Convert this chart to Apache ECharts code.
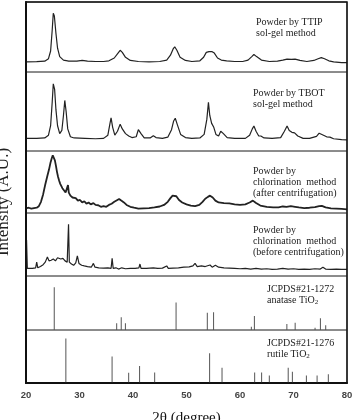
<!DOCTYPE html>
<html>
<head>
<meta charset="utf-8">
<script src="https://cdn.jsdelivr.net/npm/echarts@6/dist/echarts.min.js"></script>
<style>
  html, body { margin: 0; padding: 0; background: #fff; }
  #box { width: 353px; height: 420px; }
</style>
</head>
<body>
<div id="box"></div>
<script>
// x ticks
const xTicks = [20, 30, 40, 50, 60, 70, 80];

// TiO2 powder by TTIP sol-gel method  [2theta, intensity a.u.]
const ttip = [
  [20,14.5],[22,14.8],[23.5,15.5],[24.2,19],[24.6,30],[24.9,60],[25.1,84],[25.3,80],[25.6,55],[25.9,34],
  [26.3,22],[27,17],[28,15.5],[29.5,15.5],[30.5,16.5],[31.5,15.5],[33,15],[34.5,15],[35.5,16],[36.5,20],
  [37.2,27],[37.6,31],[38,28],[38.6,21],[39.5,16.5],[41,15],[43,14.5],[45,15],[46.3,17],[47,24],
  [47.5,33],[47.8,36],[48.2,31],[48.8,21],[49.8,16.5],[51,15],[52.5,16],[53.2,21],[53.7,28],[54.2,29],
  [54.8,29],[55.2,27],[55.8,20],[56.5,17],[57.5,16],[59,15],[60.5,15],[61.5,17],[62.2,22],[62.6,25],
  [63.1,22],[64,17],[65.5,15],[67,15.5],[68,17],[68.8,18.5],[69.6,18],[70.3,18.5],[71.2,16.5],[72.5,15],
  [73.8,16.5],[74.6,19],[75.2,20.5],[75.8,19],[76.6,16],[77.5,14.5],[79,13.5],[80,13.3]
];

// TiO2 powder by TBOT sol-gel method
const tbot = [
  [20,16],[22,16],[23.5,16.5],[24.2,20],[24.6,32],[24.9,62],[25.1,85],[25.35,78],[25.6,52],[25.9,32],
  [26.3,22],[26.7,26],[27,45],[27.25,64],[27.5,50],[27.8,28],[28.3,18],[29,16.5],[31,16],[33,15.5],
  [34.5,16],[35.3,20],[35.7,35],[35.9,42],[36.2,30],[36.6,20],[37.1,25],[37.6,34],[38,28],[38.6,22],
  [39.2,19],[39.8,17],[40.6,18],[41,27],[41.2,29.5],[41.5,22],[42.1,16.5],[43.2,16.5],[43.8,19.4],[44.3,17],
  [45.5,16],[46.5,17.5],[47.2,27],[47.6,38],[47.9,41.4],[48.3,33],[48.9,21],[49.8,17],[51,16],[52.5,16.5],
  [53.3,21],[53.8,40],[54.1,61.6],[54.35,45],[54.7,35],[55.1,30],[55.5,21],[56,19],[56.4,25],[56.6,27.5],
  [56.9,22],[57.6,17],[59,16],[61,16],[61.8,20],[62.3,28],[62.6,31.6],[63,25],[63.5,19],[63.9,19],
  [64.5,16.5],[66,16],[67.6,17],[68.3,25],[68.8,31.6],[69.2,26],[69.7,23.6],[70.2,23],[70.8,19],[71.8,16],
  [73,16],[74.3,18.5],[74.8,22.5],[75.1,23.6],[75.6,20],[76.2,18],[76.8,17.5],[77.5,15.5],[79,14.5],[80,14]
];

// chlorination method, after centrifugation
const chlorAfter = [
  [20,7.5],[20.5,8.5],[21,7],[21.5,8],[22,8.5],[22.4,11],[22.8,18],[23.2,30],[23.6,46],[24,60],
  [24.3,70],[24.6,82],[24.8,88],[25,93],[25.2,92],[25.4,85],[25.6,76],[25.8,66],[26,58],[26.2,52],
  [26.4,47],[26.6,44],[26.8,40],[27.1,37],[27.4,33],[27.7,32],[27.85,45],[28,33],[28.3,28],[28.7,25],
  [29,22],[29.3,24],[29.7,20],[30.1,21],[30.5,17],[30.9,19],[31.3,15],[31.7,17],[32.1,14],[32.6,16],
  [33,13],[33.5,12.5],[34,10],[34.5,11],[35,10],[35.5,13],[36,15],[36.5,18],[37,20.5],[37.4,22.5],
  [37.8,20],[38.3,17],[38.8,13],[39.5,10],[40.2,8.5],[41,7],[42,7.5],[43,8],[44,9],[45,10.5],
  [45.8,13],[46.5,18],[47,24],[47.4,28],[47.7,30],[48.1,27],[48.6,21],[49.2,17],[50,14],[50.8,12],
  [51.6,11],[52.4,13],[53,18],[53.5,23],[54,26],[54.4,28],[54.9,25],[55.4,20],[56,17],[57,16],
  [58,15.5],[59,14],[60,13],[61,14],[61.8,17],[62.4,20],[63,16],[63.8,12],[65,10],[66.2,9],
  [67.2,9],[68,10.5],[68.7,10],[69.5,11],[70.3,10],[71,9],[72,8],[73,8.5],[74,9.5],[74.8,11],
  [75.3,11.5],[76,9],[77,7.5],[78,7],[79,6.5],[80,6]
];

// chlorination method, before centrifugation
const chlorBefore = [
  [20,12],[20.1,57],[20.25,12],[20.6,11],[21.2,12],[21.8,13],[22,22],[22.2,13],[22.7,15],[23.2,18],
  [23.6,22],[24,30],[24.3,24],[24.7,25],[25.1,27],[25.5,24],[25.9,29],[26.2,32],[26.5,27],[26.9,28],
  [27.3,24],[27.7,22],[27.95,82],[28.1,22],[28.5,19],[28.9,17],[29.3,21],[29.6,32],[29.9,20],[30.4,17],
  [30.9,16],[31.5,15],[32.2,14],[32.6,20],[32.9,14],[33.6,13],[34.5,12.5],[35.3,13],[35.9,12],[36.1,28],
  [36.3,12],[36.8,13],[37.3,11],[37.9,13],[38.6,11.5],[39.5,12],[40.4,12],[41.1,13],[41.3,19],[41.5,12],
  [42.5,12],[43.8,13],[44.6,12],[45.5,12.5],[46.3,16],[46.6,12],[47.5,12.5],[48.5,13],[49.5,14],[50.5,14.5],
  [51.2,16],[51.6,20],[52,15],[52.8,16],[53.5,15],[54.4,17.5],[54.8,14],[55.4,17],[56,14],[57,13],
  [58,12.5],[59,12],[60,11.5],[61,12],[62,11],[63,12],[64,11],[65,11.5],[66,10.5],[67,11],
  [68,12],[69,11],[70,11.5],[71,10.5],[72,11],[73,10.5],[74,11.5],[75,11],[75.5,14],[76,11],
  [77,10.5],[78,11],[79,10.5],[80,10.6]
];

// JCPDS#21-1272 anatase
const anatasePos = [25.28, 36.95, 37.80, 38.58, 48.05, 53.89, 55.06, 62.12, 62.69, 68.76, 70.31, 74.03, 75.03, 76.02];
const anataseInt = [79, 12.4, 23.5, 12.4, 51, 32, 32.7, 6, 26, 11, 13.5, 4, 21.6, 9];

// JCPDS#21-1276 rutile
const rutilePos = [27.45, 36.09, 39.19, 41.23, 44.05, 54.32, 56.64, 62.74, 64.04, 65.48, 69.01, 69.79, 72.41, 74.41, 76.51];
const rutileInt = [84, 50, 19.5, 32, 20, 56, 29, 20, 20, 14, 29, 21, 14, 14, 16.5];

const panelLabels = [
  ['Powder by TTIP', 'sol-gel method'],
  ['Powder by TBOT', 'sol-gel method'],
  ['Powder by', 'chlorination  method', '(after centrifugation)'],
  ['Powder by', 'chlorination  method', '(before centrifugation)'],
  ['JCPDS#21-1272', 'anatase TiO{s|2}'],
  ['JCPDS#21-1276', 'rutile TiO{s|2}']
];

// layout
const L = 26, R = 6, B = 383;
const tops = [2, 72, 151, 213, 276, 330];
const labelPos = [[256, 17], [253, 88], [253, 166], [253, 225], [267, 284], [267, 338]];

const chart = echarts.init(document.getElementById('box'));

const grids = [], xAxes = [], yAxes = [];
tops.forEach(function (t, i) {
  const h = (i < 5 ? tops[i + 1] : B) - t;
  const last = i === 5;
  grids.push({
    left: L, right: R, top: t, height: h, outerBoundsMode: 'none', containLabel: false,
    show: true, borderColor: '#666', borderWidth: 1
  });
  xAxes.push({
    type: 'value', gridIndex: i, min: 20, max: 80, interval: 10,
    axisLine: { show: last, lineStyle: { color: '#111', width: 2 } },
    axisTick: { show: false },
    axisLabel: { show: last, color: '#444', fontSize: 9.5, fontWeight: 'bold', fontFamily: 'Liberation Sans', margin: 7 },
    splitLine: { show: false },
    name: last ? '2θ (degree)' : '',
    nameLocation: 'middle', nameGap: 28,
    nameTextStyle: { fontFamily: 'Liberation Serif', fontSize: 15, color: '#111' }
  });
  yAxes.push({
    type: 'value', gridIndex: i, min: 0, max: 100,
    axisLine: { show: true, lineStyle: { color: '#111', width: 2 } },
    axisTick: { show: false }, axisLabel: { show: false }, splitLine: { show: false }
  });
});

const curves = [ttip, tbot, chlorAfter, chlorBefore];
const curveWidths = [1.2, 1.2, 1.8, 1.2];
const series = curves.map(function (d, i) {
  return {
    type: 'line', xAxisIndex: i, yAxisIndex: i, data: d,
    showSymbol: false, animation: false,
    lineStyle: { color: '#222', width: curveWidths[i] }
  };
});
series.push({
  type: 'bar', xAxisIndex: 4, yAxisIndex: 4, barWidth: 1, animation: false,
  itemStyle: { color: '#555' },
  data: anatasePos.map(function (x, k) { return [x, anataseInt[k]]; })
});
series.push({
  type: 'bar', xAxisIndex: 5, yAxisIndex: 5, barWidth: 1, animation: false,
  itemStyle: { color: '#555' },
  data: rutilePos.map(function (x, k) { return [x, rutileInt[k]]; })
});

const graphics = panelLabels.map(function (lines, i) {
  return {
    type: 'text', left: labelPos[i][0], top: labelPos[i][1], z: 10,
    style: {
      text: lines.join('\n'),
      font: '10px "Liberation Serif"', fill: '#222', lineHeight: 11,
      rich: { s: { fontSize: 7, verticalAlign: 'bottom', padding: [4, 0, 0, 0], fontFamily: 'Liberation Serif' } }
    }
  };
});
graphics.push({
  type: 'rect', z: 10, silent: true,
  shape: { x: L, y: tops[0], width: 353 - L - R, height: B - tops[0] },
  style: { fill: null, stroke: '#111', lineWidth: 1.5 }
});
graphics.push({
  type: 'text', x: 4, y: 202, rotation: Math.PI / 2, z: 10,
  style: { text: 'Intensity (A.U.)', font: '17px "Liberation Serif"', fill: '#222', align: 'center', verticalAlign: 'middle' }
});

chart.setOption({
  animation: false,
  grid: grids,
  xAxis: xAxes,
  yAxis: yAxes,
  series: series,
  graphic: graphics
});
</script>
</body>
</html>
